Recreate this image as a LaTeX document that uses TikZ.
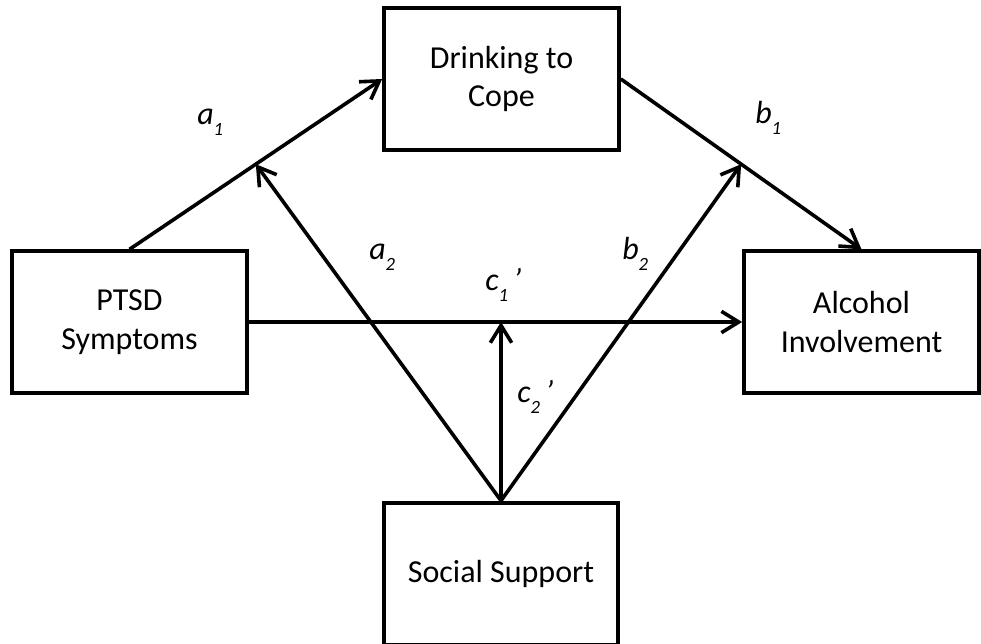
\documentclass[tikz,border=0pt]{standalone}
\usepackage{fontspec}
\setmainfont{Carlito}
\usepackage{tikz}
\usetikzlibrary{arrows.meta}

\newcommand{\lowidx}[1]{\raisebox{-8.5pt}{\fontsize{14}{14}\selectfont #1}}

\tikzset{
  varbox/.style={draw, line width=3pt, align=center, minimum width=176pt,
    minimum height=106pt, inner sep=2pt, font=\fontsize{24}{29}\selectfont},
  effect/.style={line width=2.7pt, -{Straight Barb[length=13pt,width=16pt]}},
  coef/.style={anchor=base west, inner sep=0pt, font=\fontsize{24}{29}\selectfont\itshape}
}

\begin{document}
\begin{tikzpicture}[x=0.75pt, y=-0.75pt]
\clip (0,0) rectangle (981,643);
% variables
\node[varbox] (drink) at (501.5,79) {Drinking to\\Cope};
\node[varbox] (ptsd) at (129.5,322) {PTSD\\Symptoms};
\node[varbox] (alc) at (861.5,322) {Alcohol\\Involvement};
\node[varbox, minimum height=107pt] (soc) at (501,574) {Social Support};
% paths
\draw[effect] (ptsd.north) -- coordinate[pos=.5] (ma) (drink.west);
\draw[effect] (drink.east) -- coordinate[pos=.5] (mb) (alc.north);
\draw[effect] (ptsd.east) -- (alc.west);
\coordinate (mc) at (soc.north |- ptsd.east);
% moderation by social support
\draw[effect] (soc.north) -- (ma);
\draw[effect] (soc.north) -- (mb);
\draw[effect] (soc.north) -- (mc);
% labels
\node[coef] (la1) at (197,124) {a\lowidx{1}};
\node[coef] (lb1) at (755,123) {b\lowidx{1}};
\node[coef] (la2) at (369,259) {a\lowidx{2}};
\node[coef] (lb2) at (622,259) {b\lowidx{2}};
\node[coef] (lc1) at (485,290) {c\lowidx{1}\,’};
\node[coef] (lc2) at (517,402) {c\lowidx{2}\,’};
\end{tikzpicture}
\end{document}
